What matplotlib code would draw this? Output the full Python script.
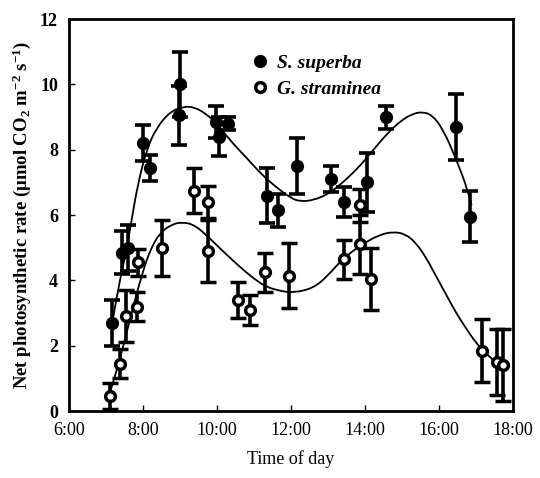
import matplotlib
matplotlib.use('Agg')
import matplotlib.pyplot as plt
from matplotlib.lines import Line2D
from matplotlib.path import Path
from matplotlib.patches import PathPatch
import numpy as np

plt.rcParams['font.family'] = ['Liberation Serif', 'DejaVu Serif']
plt.rcParams['mathtext.fontset'] = 'custom'
plt.rcParams['mathtext.rm'] = 'Liberation Serif:bold'
plt.rcParams['mathtext.it'] = 'Liberation Serif:italic:bold'
plt.rcParams['mathtext.bf'] = 'Liberation Serif:bold'

# S. superba (filled)
ss_time = [7.15, 7.42, 7.60, 7.99, 8.18, 8.97, 9.00, 9.98, 10.05, 10.30,
           11.34, 11.65, 12.16, 13.09, 13.42, 14.04, 14.58, 16.45, 16.83]
ss_rate = [2.70, 4.85, 5.00, 8.20, 7.45, 9.05, 10.00, 8.85, 8.40, 8.80,
           6.60, 6.15, 7.50, 7.10, 6.40, 7.00, 9.00, 8.70, 5.95]
ss_err = [0.70, 0.65, 0.70, 0.55, 0.40, 0.90, 1.00, 0.50, 0.60, 0.20,
          0.85, 0.50, 0.85, 0.40, 0.45, 0.90, 0.35, 1.00, 0.78]

# G. straminea (open)
gs_time = [7.10, 7.38, 7.53, 7.84, 7.87, 8.52, 9.38, 9.76, 9.76, 10.57,
           10.90, 11.29, 11.94, 13.42, 13.86, 13.86, 14.17, 17.17, 17.57, 17.73]
gs_rate = [0.45, 1.45, 2.90, 3.20, 4.55, 5.00, 6.75, 6.40, 4.90, 3.40,
           3.10, 4.25, 4.15, 4.65, 6.30, 5.10, 4.05, 1.85, 1.50, 1.40]
gs_err = [0.40, 0.45, 0.80, 0.45, 0.40, 0.85, 0.70, 0.50, 0.95, 0.55,
          0.45, 0.60, 1.00, 0.60, 0.50, 0.90, 0.95, 0.97, 1.00, 1.10]

# fitted trend curves
ss_fit_t = [7.15, 7.30, 7.46, 7.60, 7.69, 7.85, 8.09, 8.35, 8.72, 9.10, 9.40,
            9.70, 10.00, 10.34, 10.80, 11.20, 11.60, 12.00, 12.23, 12.60,
            13.05, 13.45, 13.86, 14.22, 14.60, 15.00, 15.30, 15.52, 15.80,
            16.10, 16.47, 16.78, 16.88]
ss_fit_v = [2.60, 3.60, 4.45, 5.25, 5.85, 6.90, 7.99, 8.65, 9.16, 9.33, 9.30,
            9.10, 8.80, 8.30, 7.75, 7.25, 6.85, 6.52, 6.42, 6.45,
            6.67, 7.05, 7.50, 7.99, 8.50, 8.92, 9.10, 9.16, 9.08,
            8.65, 7.70, 6.76, 6.30]

gs_fit_t = [7.10, 7.32, 7.55, 7.78, 8.00, 8.20, 8.45, 8.75, 9.04, 9.40,
            9.80, 10.20, 10.61, 11.00, 11.33, 11.70, 12.05, 12.60, 13.00,
            13.40, 13.95, 14.40, 14.76, 15.10, 15.39, 15.65, 15.93, 16.20,
            16.47, 16.75, 17.01, 17.25, 17.46, 17.65, 17.82]
gs_fit_v = [0.55, 1.36, 2.38, 3.40, 4.30, 4.95, 5.45, 5.70, 5.79, 5.70,
            5.29, 4.85, 4.42, 4.05, 3.80, 3.68, 3.62, 3.76, 4.15,
            4.67, 5.13, 5.40, 5.49, 5.42, 5.13, 4.70, 4.11, 3.55,
            2.99, 2.50, 2.07, 1.80, 1.56, 1.40, 1.25]

xticks = [6, 8, 10, 12, 14, 16, 18]
xlabels = ['6:00', '8:00', '10:00', '12:00', '14:00', '16:00', '18:00']
yticks = [0, 2, 4, 6, 8, 10, 12]


def smooth_path(xs, ys):
    # quadratic bezier through midpoints, read points used as control points
    pts = list(zip(xs, ys))
    verts = [pts[0]]
    codes = [Path.MOVETO]
    for i in range(1, len(pts) - 1):
        mid = ((pts[i][0] + pts[i + 1][0]) / 2, (pts[i][1] + pts[i + 1][1]) / 2)
        if i == len(pts) - 2:
            mid = pts[-1]
        verts += [pts[i], mid]
        codes += [Path.CURVE3, Path.CURVE3]
    return Path(verts, codes)


fig = plt.figure(figsize=(5.4, 4.78), dpi=100)
ax = fig.add_axes([0.128, 0.140, 0.822, 0.820])

for xs, ys in [(ss_fit_t, ss_fit_v), (gs_fit_t, gs_fit_v)]:
    ax.add_patch(PathPatch(smooth_path(xs, ys), fc='none', ec='k', lw=1.3,
                           zorder=2))

ax.errorbar(ss_time, ss_rate, yerr=ss_err, fmt='o', color='k', ms=8.5,
            mfc='k', mec='k', elinewidth=2.6, capsize=5.5, capthick=2.6,
            zorder=3)
ax.errorbar(gs_time, gs_rate, yerr=gs_err, fmt='o', color='k', ms=7,
            mfc='white', mec='k', mew=2.5, elinewidth=2.6, capsize=5.5,
            capthick=2.6, zorder=4)

ax.set_xlim(6, 18)
ax.set_ylim(0, 12)
ax.set_xticks(xticks)
ax.set_xticklabels(xlabels, fontsize=13)
ax.set_yticks(yticks)
ax.set_yticklabels([str(v) for v in yticks], fontsize=13, fontweight='bold')
ax.tick_params(direction='in', length=4, width=1, pad=8)
for sp in ax.spines.values():
    sp.set_linewidth(2)

ax.set_xlabel('Time of day', fontsize=13, labelpad=8)
ax.set_ylabel('Net photosynthetic rate (\u03bcmol CO$_2$ m$^{-2}$ s$^{-1}$)',
              fontsize=13.5, fontweight='bold', labelpad=5)

handles = [Line2D([], [], ls='none', marker='o', ms=8.5, mfc='k', mec='k'),
           Line2D([], [], ls='none', marker='o', ms=7, mfc='white', mec='k',
                  mew=2.5)]
ax.legend(handles, ['S. superba', 'G. straminea'], loc='upper left',
          bbox_to_anchor=(0.365, 0.955), frameon=False, handletextpad=0.25,
          handlelength=1.2, labelspacing=0.45,
          prop={'style': 'italic', 'weight': 'bold', 'size': 14})

fig.savefig('out.png', dpi=100)
